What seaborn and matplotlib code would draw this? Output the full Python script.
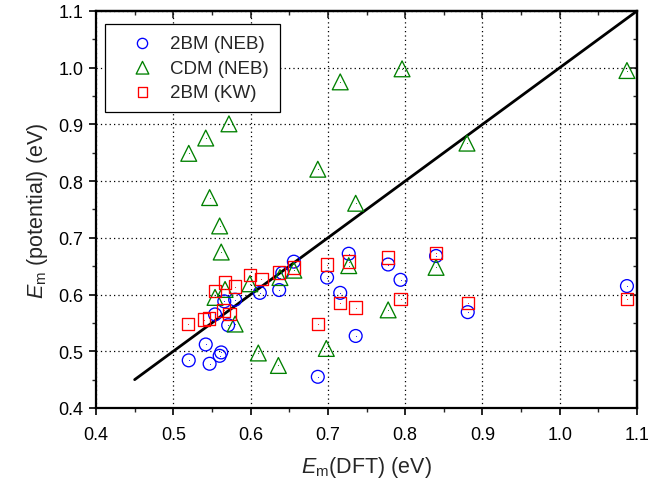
import matplotlib
matplotlib.use("Agg")
import matplotlib.pyplot as plt
from matplotlib.ticker import MultipleLocator
import numpy as np
import pandas as pd
import seaborn as sns

# Migration barriers: DFT reference vs. interatomic potential predictions
bm_neb_x = [0.520, 0.542, 0.547, 0.560, 0.562, 0.554, 0.571, 0.566, 0.580, 0.612,
            0.637, 0.641, 0.656, 0.699, 0.687, 0.716, 0.727, 0.736, 0.778, 0.794,
            0.840, 0.881, 1.087]
bm_neb_y = [0.484, 0.512, 0.478, 0.492, 0.498, 0.565, 0.546, 0.588, 0.591, 0.603,
            0.608, 0.638, 0.658, 0.630, 0.455, 0.603, 0.672, 0.527, 0.653, 0.626,
            0.668, 0.569, 0.615]

cdm_neb_x = [0.520, 0.542, 0.572, 0.547, 0.560, 0.562, 0.567, 0.554, 0.599, 0.580,
             0.610, 0.636, 0.638, 0.656, 0.687, 0.698, 0.716, 0.727, 0.736, 0.778,
             0.796, 0.840, 0.880, 1.087]
cdm_neb_y = [0.849, 0.876, 0.901, 0.771, 0.721, 0.675, 0.609, 0.595, 0.619, 0.548,
             0.497, 0.475, 0.630, 0.643, 0.821, 0.505, 0.975, 0.651, 0.761, 0.573,
             0.998, 0.648, 0.867, 0.995]

bm_kw_x = [0.519, 0.540, 0.546, 0.554, 0.567, 0.580, 0.565, 0.573, 0.599, 0.614,
           0.637, 0.656, 0.687, 0.699, 0.716, 0.727, 0.736, 0.778, 0.794, 0.840,
           0.881, 1.087]
bm_kw_y = [0.548, 0.556, 0.558, 0.606, 0.621, 0.614, 0.572, 0.566, 0.635, 0.627,
           0.639, 0.648, 0.548, 0.653, 0.585, 0.658, 0.577, 0.665, 0.592, 0.673,
           0.585, 0.592]

series_labels = ["2BM (NEB)", "CDM (NEB)", "2BM (KW)"]
ideal_line = [0.45, 1.1]
tick_values = [0.4, 0.5, 0.6, 0.7, 0.8, 0.9, 1.0, 1.1]

sns.set_style("ticks")
plt.rcParams["font.family"] = ["Liberation Sans", "DejaVu Sans"]
plt.rcParams["mathtext.fontset"] = "custom"
plt.rcParams["mathtext.rm"] = "Liberation Sans"
plt.rcParams["mathtext.it"] = "Liberation Sans:italic"

fig = plt.figure(figsize=(6.5, 4.89), dpi=100)
ax = fig.add_axes([0.1477, 0.1636, 0.8323, 0.8119])

styles = [
    (bm_neb_x, bm_neb_y, "o", "#0000ff", 85),
    (cdm_neb_x, cdm_neb_y, "^", "#008000", 130),
    (bm_kw_x, bm_kw_y, "s", "#ff0000", 80),
]
for (xs, ys, mk, col, size), lab in zip(styles, series_labels):
    df = pd.DataFrame({"dft": xs, "pot": ys})
    sns.scatterplot(data=df, x="dft", y="pot", marker=mk, s=size,
                    facecolor="none", edgecolor=col, linewidth=0.95,
                    label=lab, ax=ax, zorder=3)
    ax.scatter(df["dft"], df["pot"], s=1.5, color=col, marker=".",
               linewidths=0, zorder=4)

sns.lineplot(x=ideal_line, y=ideal_line, color="black", linewidth=2.0,
             ax=ax, zorder=2)

ax.set_xlim(0.4, 1.1)
ax.set_ylim(0.4, 1.1)
ax.set_xticks(tick_values)
ax.set_yticks(tick_values)
ax.set_xticklabels([f"{v:.1f}" for v in tick_values])
ax.set_yticklabels([f"{v:.1f}" for v in tick_values])
ax.xaxis.set_minor_locator(MultipleLocator(0.05))
ax.yaxis.set_minor_locator(MultipleLocator(0.05))
ax.tick_params(which="major", direction="out", length=5, width=1.2,
               labelsize=13, colors="black")
ax.tick_params(axis="x", which="major", pad=8)
ax.tick_params(axis="y", which="major", pad=4)
ax.tick_params(which="minor", direction="out", length=3, width=1.0)
ax.grid(True, which="major", linestyle=(0, (1, 2.5)), color="black",
        linewidth=0.9)

# mirrored axes with inward ticks
for side, make in (("top", ax.secondary_xaxis), ("right", ax.secondary_yaxis)):
    sec = make(side)
    sec.set_ticks(tick_values)
    sec.tick_params(which="major", direction="in", length=5, width=1.2,
                    labelleft=False, labelright=False, labeltop=False,
                    labelbottom=False)
    loc = MultipleLocator(0.05)
    if side == "top":
        sec.xaxis.set_minor_locator(loc)
    else:
        sec.yaxis.set_minor_locator(loc)
    sec.tick_params(which="minor", direction="in", length=3, width=1.0)
    for sp in sec.spines.values():
        sp.set_linewidth(1.6)

for sp in ax.spines.values():
    sp.set_visible(True)
    sp.set_linewidth(1.6)
    sp.set_color("black")

ax.set_xlabel(r"$\mathit{E}_{\mathrm{m}}$(DFT) (eV)", fontsize=15.5, labelpad=8)
ax.set_ylabel(r"$\mathit{E}_{\mathrm{m}}$ (potential) (eV)", fontsize=15.5,
              labelpad=6)

leg = ax.legend(loc="upper left", bbox_to_anchor=(0.0, 1.0), fontsize=13.5,
                frameon=True, fancybox=False, edgecolor="black",
                borderpad=0.6, handlelength=2.8, handletextpad=0.05,
                labelspacing=0.38, borderaxespad=0.0, markerscale=0.8)
leg.set_bbox_to_anchor((105 / 650, 1 - 25 / 489), transform=fig.transFigure)
leg.get_frame().set_linewidth(0.9)
leg.get_frame().set_alpha(1)

fig.savefig("out.png", dpi=100)
